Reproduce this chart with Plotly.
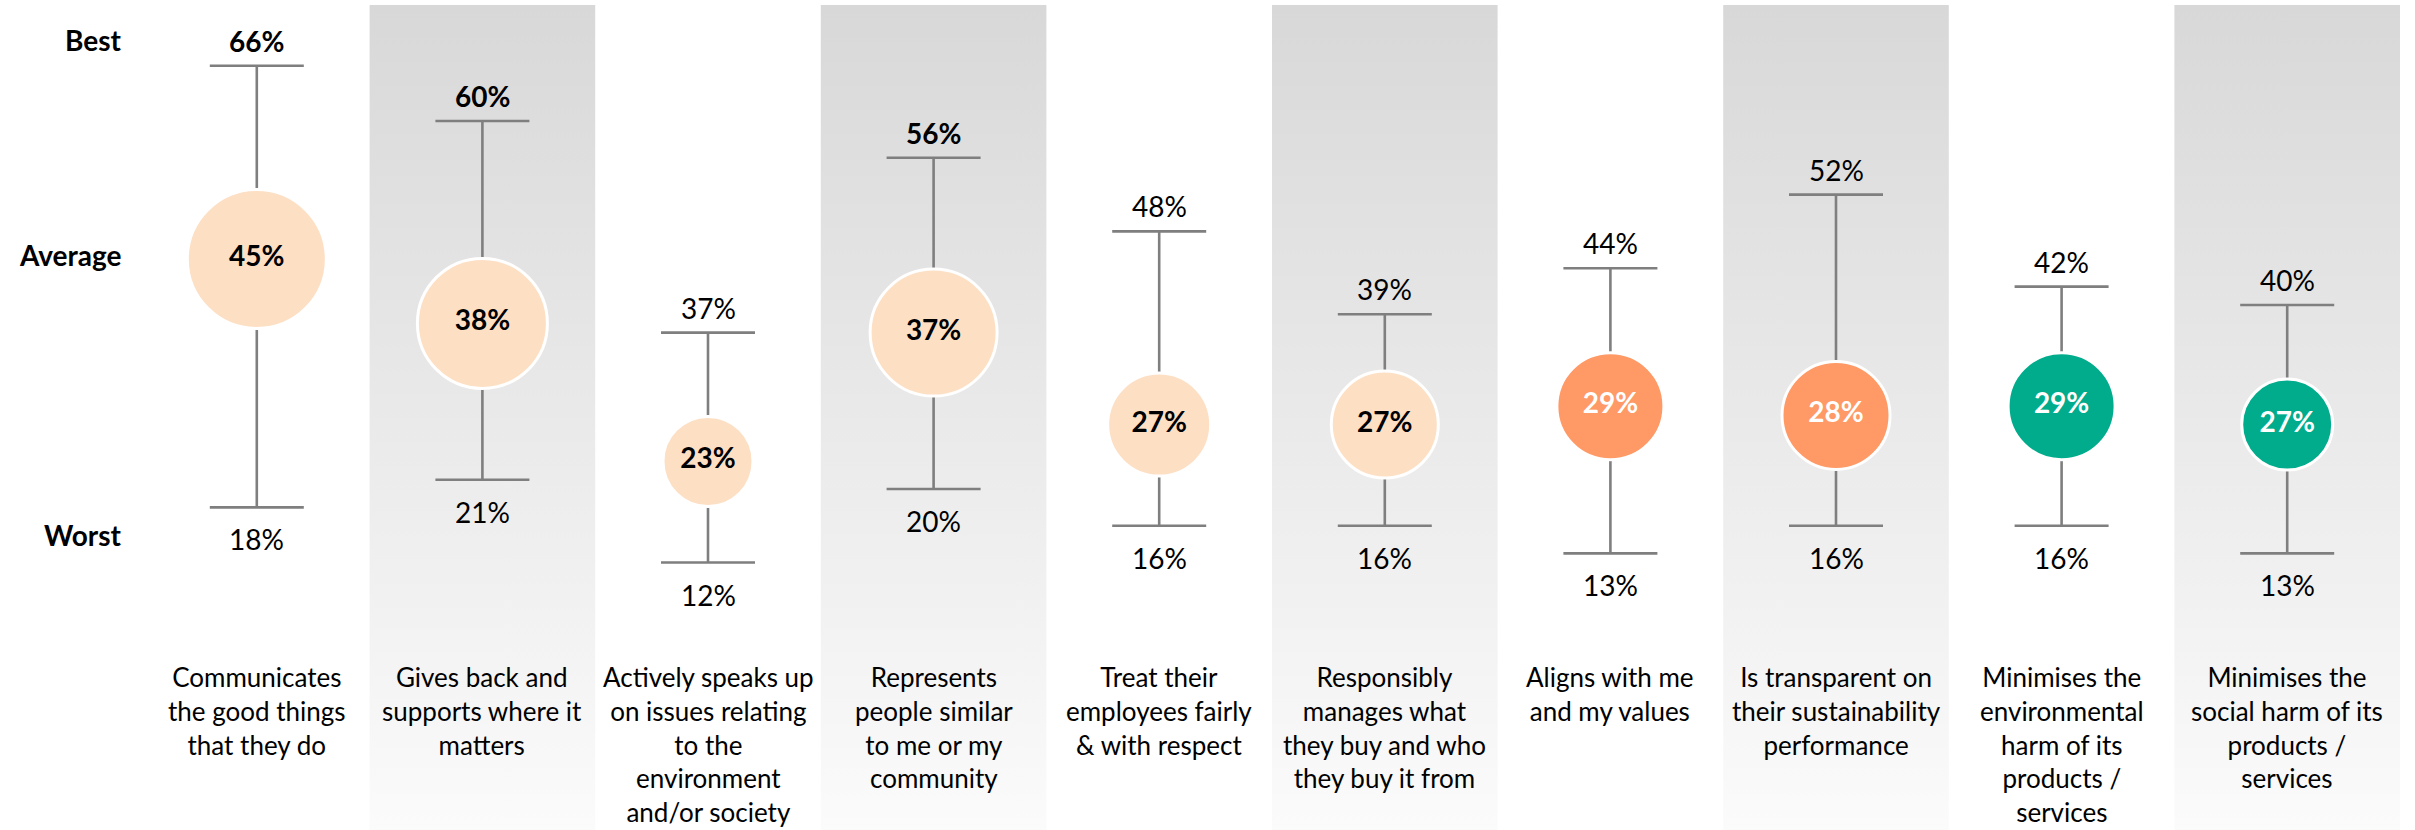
import plotly.graph_objects as go

# ---- data -------------------------------------------------------------
categories = [
    "Communicates<br>the good things<br>that they do",
    "Gives back and<br>supports where it<br>matters",
    "Actively speaks up<br>on issues relating<br>to the<br>environment<br>and/or society",
    "Represents<br>people similar<br>to me or my<br>community",
    "Treat their<br>employees fairly<br>& with respect",
    "Responsibly<br>manages what<br>they buy and who<br>they buy it from",
    "Aligns with me<br>and my values",
    "Is transparent on<br>their sustainability<br>performance",
    "Minimises the<br>environmental<br>harm of its<br>products /<br>services",
    "Minimises the<br>social harm of its<br>products /<br>services",
]
best = [66, 60, 37, 56, 48, 39, 44, 52, 42, 40]
average = [45, 38, 23, 37, 27, 27, 29, 28, 29, 27]
worst = [18, 21, 12, 20, 16, 16, 13, 16, 16, 13]
best_bold = [True, True, False, True, False, False, False, False, False, False]
bubble_px = [139, 130, 90, 127, 103, 107, 107, 108, 107, 91]
bubble_group = ["peach"] * 6 + ["orange"] * 2 + ["green"] * 2

row_labels = ["Best", "Average", "Worst"]
row_label_pos = [68.8, 45.4, 15.0]

# ---- style ------------------------------------------------------------
FONT = "Lato, 'Liberation Sans', Arial, sans-serif"
GREY = "#7F7F7F"
FILL = {"peach": "#FDDFC4", "orange": "#FF9966", "green": "#00AC8C"}
TEXT = {"peach": "#000000", "orange": "#FFFFFF", "green": "#FFFFFF"}
Y_RANGE = [-17.07, 72.61]

xs = list(range(len(categories)))
fig = go.Figure()

# alternating shaded columns
for i in xs[1::2]:
    fig.add_trace(go.Scatter(
        x=[i - 0.5, i + 0.5, i + 0.5, i - 0.5, i - 0.5],
        y=[Y_RANGE[0], Y_RANGE[0], Y_RANGE[1], Y_RANGE[1], Y_RANGE[0]],
        mode="lines", fill="toself", line=dict(width=0),
        fillgradient=dict(
            type="vertical",
            colorscale=[[0, "#FBFBFB"], [1, "#D8D8D8"]],
            start=Y_RANGE[0], stop=Y_RANGE[1],
        ),
        hoverinfo="skip", showlegend=False,
    ))

# best / worst range
fig.add_trace(go.Scatter(
    x=xs, y=average, mode="markers",
    marker=dict(size=1, opacity=0),
    error_y=dict(
        type="data", symmetric=False,
        array=[b - a for b, a in zip(best, average)],
        arrayminus=[a - w for a, w in zip(average, worst)],
        color=GREY, thickness=2.6, width=47,
    ),
    hoverinfo="skip", showlegend=False,
))

# average bubbles
fig.add_trace(go.Scatter(
    x=xs, y=average, mode="markers+text",
    marker=dict(
        size=bubble_px,
        color=[FILL[g] for g in bubble_group],
        line=dict(color="#FFFFFF", width=3),
        opacity=1,
    ),
    text=[f"<b>{v}%</b>" for v in average],
    textposition="middle center",
    textfont=dict(family=FONT, size=28, color=[TEXT[g] for g in bubble_group]),
    hoverinfo="skip", showlegend=False,
))

annotations = []
for i in xs:
    top = f"<b>{best[i]}%</b>" if best_bold[i] else f"{best[i]}%"
    annotations.append(dict(
        x=i, y=best[i], text=top, showarrow=False,
        yanchor="bottom", yshift=6,
        font=dict(family=FONT, size=28, color="#000000"),
    ))
    annotations.append(dict(
        x=i, y=worst[i], text=f"{worst[i]}%", showarrow=False,
        yanchor="top", yshift=-13,
        font=dict(family=FONT, size=28, color="#000000"),
    ))
    annotations.append(dict(
        x=i, y=0, text=categories[i], showarrow=False,
        yanchor="top", yshift=14, align="center",
        font=dict(family=FONT, size=26, color="#000000"),
    ))

for lab, pos in zip(row_labels, row_label_pos):
    annotations.append(dict(
        x=-0.5, y=pos, text=f"<b>{lab}</b>", showarrow=False,
        xanchor="right", xshift=-20,
        font=dict(family=FONT, size=28, color="#000000"),
    ))

fig.update_layout(
    width=2415, height=830,
    margin=dict(l=144, r=15, t=5, b=0),
    paper_bgcolor="#FFFFFF", plot_bgcolor="#FFFFFF",
    annotations=annotations,
    showlegend=False,
)
fig.update_xaxes(range=[-0.5, 9.5], visible=False, fixedrange=True)
fig.update_yaxes(range=Y_RANGE, visible=False, fixedrange=True)

# the page body's default 8px margin would push the figure off the window
fig.write_html(
    "out.html",
    config={"displayModeBar": False},
    post_script="document.body.style.margin='0px';",
)
